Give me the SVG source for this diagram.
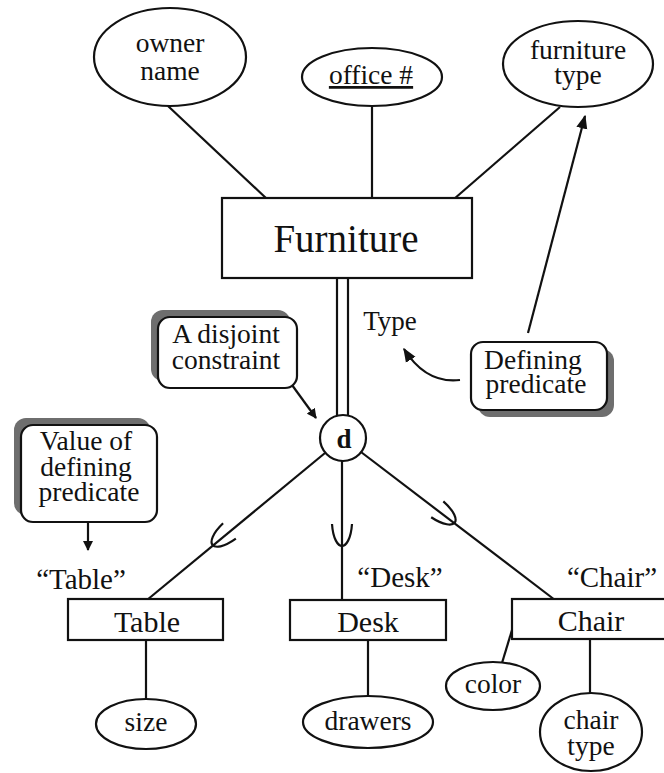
<svg xmlns="http://www.w3.org/2000/svg" width="664" height="773" viewBox="0 0 664 773">
  <style>
    .shape { fill: #fff; stroke: #111; stroke-width: 2.2; }
    .line { fill: none; stroke: #111; stroke-width: 2.2; }
    .shadow { fill: #6e6e6e; }
    text { font-family: "Liberation Serif", "Times New Roman", serif; fill: #111; text-anchor: middle; }
    .t28 { font-size: 27.5px; }
    .t30 { font-size: 30px; }
  </style>
  <defs>
    <marker id="arrow" viewBox="0 0 10 10" refX="9" refY="5" markerWidth="10" markerHeight="10" orient="auto" markerUnits="userSpaceOnUse">
      <path d="M0,0 L10,5 L0,10 z" fill="#111"/>
    </marker>
    <marker id="arrowBig" viewBox="0 0 10 10" refX="9" refY="5" markerWidth="14" markerHeight="14" orient="auto" markerUnits="userSpaceOnUse">
      <path d="M0,1 L10,5 L0,9 z" fill="#111"/>
    </marker>
    <!-- subset symbol, open toward the superclass -->
    <path id="subset" d="M -10 -11 C -9 4, -4 11, 0 11 C 4 11, 9 4, 10 -11" fill="none" stroke="#111" stroke-width="2.2"/>
  </defs>

  <!-- connectors -->
  <g id="connectors">
    <line class="line" x1="168" y1="106" x2="267" y2="199"/>
    <line class="line" x1="372" y1="106" x2="372" y2="199"/>
    <line class="line" x1="560" y1="107" x2="454" y2="199"/>
    <!-- total participation (double line) -->
    <line class="line" x1="337" y1="278" x2="337" y2="417"/>
    <line class="line" x1="348" y1="278" x2="348" y2="417"/>
    <!-- subclass links -->
    <line class="line" x1="325" y1="453" x2="147" y2="600"/>
    <line class="line" x1="342" y1="461" x2="342" y2="600"/>
    <line class="line" x1="361" y1="452" x2="555" y2="600"/>
    <use href="#subset" transform="translate(221,538) rotate(50.4)"/>
    <use href="#subset" transform="translate(342,535)"/>
    <use href="#subset" transform="translate(446,516) rotate(-52.6)"/>
    <!-- attribute links -->
    <line class="line" x1="146" y1="640" x2="146" y2="700"/>
    <line class="line" x1="368" y1="640" x2="368" y2="697"/>
    <line class="line" x1="512" y1="630" x2="502" y2="663"/>
    <line class="line" x1="590" y1="640" x2="590" y2="693"/>
    <!-- annotation arrows -->
    <line class="line" x1="528" y1="333" x2="585" y2="116" marker-end="url(#arrowBig)"/>
    <path class="line" d="M 460 380 Q 426 384 404 349" marker-end="url(#arrowBig)"/>
    <line class="line" x1="292" y1="385" x2="316" y2="418" marker-end="url(#arrow)"/>
    <line class="line" x1="88" y1="522" x2="88" y2="550" marker-end="url(#arrow)"/>
  </g>

  <!-- attributes of Furniture -->
  <g id="owner-name">
    <ellipse class="shape" cx="170" cy="57" rx="76" ry="49"/>
    <text class="t28" x="170" y="52">owner</text>
    <text class="t28" x="170" y="80">name</text>
  </g>
  <g id="office">
    <ellipse class="shape" cx="372" cy="77" rx="70" ry="29"/>
    <text class="t28" x="371" y="84" text-decoration="underline">office #</text>
  </g>
  <g id="furniture-type">
    <ellipse class="shape" cx="578" cy="64" rx="75" ry="43"/>
    <text class="t28" x="578" y="59">furniture</text>
    <text class="t28" x="578" y="84">type</text>
  </g>

  <!-- superclass -->
  <g id="furniture">
    <rect class="shape" x="222" y="198" width="250" height="80"/>
    <text x="346" y="252" font-size="39px">Furniture</text>
  </g>
  <g id="type-label">
    <text x="390" y="330" font-size="27px">Type</text>
  </g>

  <!-- disjointness circle -->
  <g id="disjoint">
    <circle class="shape" cx="343" cy="438" r="23"/>
    <text x="344" y="448" font-size="27px" font-weight="bold">d</text>
  </g>

  <!-- notes -->
  <g id="note-disjoint">
    <rect class="shadow" x="151" y="310" width="139" height="71" rx="12"/>
    <rect class="shape" x="158" y="317" width="139" height="71" rx="12"/>
    <text class="t28" x="226" y="343">A disjoint</text>
    <text class="t28" x="226" y="369">constraint</text>
  </g>
  <g id="note-defining">
    <rect class="shadow" x="478" y="349" width="136" height="68" rx="12"/>
    <rect class="shape" x="471" y="342" width="136" height="68" rx="12"/>
    <text class="t28" x="533" y="369">Defining</text>
    <text class="t28" x="536" y="393">predicate</text>
  </g>
  <g id="note-value">
    <rect class="shadow" x="14" y="418" width="136" height="97" rx="12"/>
    <rect class="shape" x="21" y="425" width="136" height="97" rx="12"/>
    <text class="t28" x="86" y="450">Value of</text>
    <text class="t28" x="86" y="476">defining</text>
    <text class="t28" x="89" y="501">predicate</text>
  </g>

  <!-- subclasses -->
  <g id="table">
    <text x="81" y="589" font-size="29px">“Table”</text>
    <rect class="shape" x="68" y="599" width="155" height="41"/>
    <text class="t30" x="147" y="632">Table</text>
  </g>
  <g id="desk">
    <text x="400" y="587" font-size="29px">“Desk”</text>
    <rect class="shape" x="290" y="600" width="156" height="40"/>
    <text class="t30" x="368" y="632">Desk</text>
  </g>
  <g id="chair">
    <text x="612" y="587" font-size="29px">“Chair”</text>
    <rect class="shape" x="512" y="599" width="160" height="40"/>
    <text class="t30" x="591" y="631">Chair</text>
  </g>

  <!-- subclass attributes -->
  <g id="size">
    <ellipse class="shape" cx="146" cy="724" rx="50" ry="25"/>
    <text class="t28" x="146" y="731">size</text>
  </g>
  <g id="drawers">
    <ellipse class="shape" cx="368" cy="722" rx="65" ry="26"/>
    <text class="t28" x="368" y="730">drawers</text>
  </g>
  <g id="color">
    <ellipse class="shape" cx="493" cy="686" rx="47" ry="24"/>
    <text class="t28" x="493" y="693">color</text>
  </g>
  <g id="chair-type">
    <ellipse class="shape" cx="591" cy="732" rx="51" ry="39"/>
    <text class="t28" x="591" y="729">chair</text>
    <text class="t28" x="591" y="755">type</text>
  </g>
</svg>
